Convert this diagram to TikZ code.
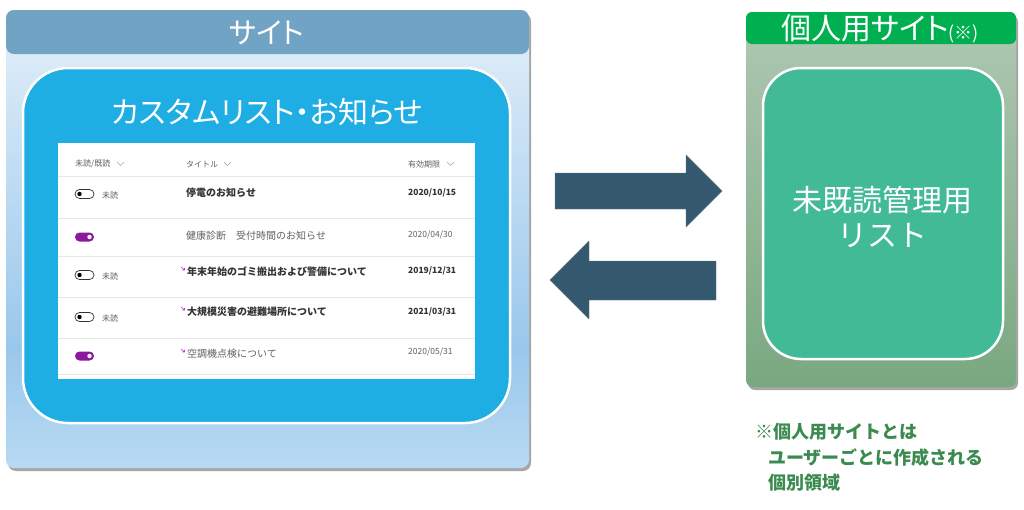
\documentclass[tikz,border=0pt]{standalone}
\usepackage{fontspec}
\setmainfont{Noto Sans CJK JP}
\newfontfamily\jpp{Noto Sans CJK JP}[RawFeature=+palt]
\usetikzlibrary{shadows}
\definecolor{hdrblue}{HTML}{71A3C4}
\definecolor{lbA}{HTML}{E4F0FA}
\definecolor{lbB}{HTML}{99C7EB}
\definecolor{lbC}{HTML}{B8DAF3}
\definecolor{cyanbox}{HTML}{1EAEE4}
\definecolor{greenhdr}{HTML}{00B050}
\definecolor{gbA}{HTML}{B0C8B3}
\definecolor{gbB}{HTML}{79A880}
\definecolor{tealbox}{HTML}{43BA96}
\definecolor{arrowc}{HTML}{34596F}
\definecolor{notegreen}{HTML}{3B8A4F}
\definecolor{togglep}{HTML}{8A1A9B}
\definecolor{markp}{HTML}{B040C8}
\definecolor{txtdark}{HTML}{333333}
\definecolor{txtgray}{HTML}{606060}
\definecolor{sepc}{HTML}{E6E6E6}
\pgfdeclareverticalshading{leftbg}{100bp}{color(0bp)=(lbC); color(25bp)=(lbC); color(38bp)=(lbB); color(75bp)=(lbA); color(100bp)=(lbA)}
\tikzset{
  bigw/.style={inner sep=0pt, text=white, font=\jpp\fontsize{29}{29}\selectfont},
  colh/.style={inner sep=0pt, anchor=west, text=txtgray, font=\fontsize{8}{9}\selectfont},
  tbold/.style={inner sep=0pt, anchor=west, text=txtdark, font=\bfseries\fontsize{10}{12}\selectfont},
  treg/.style={inner sep=0pt, anchor=west, text=txtgray, font=\fontsize{10}{12}\selectfont},
  dbold/.style={inner sep=0pt, anchor=west, text=txtdark, font=\bfseries\fontsize{8.5}{10}\selectfont},
  dreg/.style={inner sep=0pt, anchor=west, text=txtgray, font=\fontsize{8.5}{10}\selectfont},
  unread/.style={inner sep=0pt, anchor=west, text=txtgray, font=\fontsize{8}{9}\selectfont},
  notetxt/.style={inner sep=0pt, anchor=west, text=notegreen, font=\bfseries\fontsize{18}{20}\selectfont},
  sepline/.style={draw=sepc, line width=0.8pt},
  chev/.style={draw=gray!70, line width=0.5pt},
  pshadow/.style={drop shadow={shadow xshift=2pt, shadow yshift=-3pt, fill=black, opacity=0.35}},
  blockarrow/.style={fill=arrowc, draw=arrowc!80!white, line width=0.4pt}
}
\newcommand{\toggleoff}[1]{%
  \draw[txtdark, line width=0.7pt, rounded corners=4.5pt] (75,#1-4.5) rectangle (94,#1+4.5);
  \fill[black] (79.5,#1) circle (2.2);}
\newcommand{\toggleon}[1]{%
  \fill[togglep, rounded corners=4.5pt] (75,#1-4.5) rectangle (94,#1+4.5);
  \fill[white] (89.5,#1) circle (2.2);}
\newcommand{\newmark}[1]{%
  \draw[markp, line width=0.6pt] (181,#1-3) -- (184.5,#1) (182.3,#1) -- (184.5,#1) -- (184.5,#1-2.2);}
\begin{document}
\begin{tikzpicture}[x=1pt,y=-1pt]
\useasboundingbox (0,0) rectangle (1024,509);
\fill[white] (0,0) rectangle (1024,509);

% ---------- left panel ----------
\shade[shading=leftbg, rounded corners=8pt, pshadow] (6,10) rectangle (529,468);
\fill[hdrblue, rounded corners=8pt] (6,10) rectangle (529,54);
\node[bigw] (hdrL) at (267,33) {サイト};
\filldraw[fill=cyanbox, draw=white, line width=2.5pt, rounded corners=45pt] (23,68) rectangle (510,423);
\node[bigw, font=\jpp\fontsize{30}{30}\selectfont] (titleL) at (267,112) {カスタムリスト・お知らせ};

% table
\fill[white] (58,143) rectangle (475,379);
\foreach \yy in {176,218,256,297,338,374} \draw[sepline] (58,\yy) -- (475,\yy);
\node[colh] (ch1) at (75,164) {未読/既読};
\draw[chev] (117,162) -- (120.5,165.5) -- (124,162);
\node[colh] (ch2) at (186,164) {タイトル};
\draw[chev] (224,162) -- (227.5,165.5) -- (231,162);
\node[colh] (ch3) at (408,164) {有効期限};
\draw[chev] (447,162) -- (450.5,165.5) -- (454,162);

% row 1
\toggleoff{194}
\node[unread] (u1) at (102,195) {未読};
\node[tbold] (t1) at (186,193) {停電のお知らせ};
\node[dbold] (d1) at (408,193) {2020/10/15};
% row 2
\toggleon{237}
\node[treg] (t2) at (186,236) {健康診断　受付時間のお知らせ};
\node[dreg] (d2) at (408,235) {2020/04/30};
% row 3
\toggleoff{275}
\node[unread] (u3) at (102,276) {未読};
\newmark{270}
\node[tbold] (t3) at (187,272) {年末年始のゴミ搬出および警備について};
\node[dbold] (d3) at (408,271) {2019/12/31};
% row 4
\toggleoff{317}
\node[unread] (u4) at (102,318) {未読};
\newmark{310}
\node[tbold] (t4) at (187,312) {大規模災害の避難場所について};
\node[dbold] (d4) at (408,312) {2021/03/31};
% row 5
\toggleon{356}
\newmark{352}
\node[treg] (t5) at (187,354) {空調機点検について};
\node[dreg] (d5) at (408,352) {2020/05/31};

% ---------- arrows ----------
\path[blockarrow] (555,173) -- (686,173) -- (686,155) -- (722,191) -- (686,227) -- (686,209) -- (555,209) -- cycle;
\path[blockarrow] (716,261) -- (589,261) -- (589,241) -- (550,280) -- (589,319) -- (589,300) -- (716,300) -- cycle;

% ---------- right panel ----------
\shade[top color=gbA, bottom color=gbB, rounded corners=7pt, pshadow] (746,12) rectangle (1016,387);
\fill[greenhdr, rounded corners=6pt] (746,12) rectangle (1016,44);
\node[bigw] (hdrR) at (880,29) {\fontsize{30}{30}\selectfont 個人用サイト{\fontsize{18}{18}\selectfont (※)}};
\filldraw[fill=tealbox, draw=white, line width=2.5pt, rounded corners=38pt] (763,68) rectangle (1003,359);
\node[bigw, align=center, font=\fontsize{30}{35}\selectfont] (listR) at (882,217) {未既読管理用\\リスト};

% note
\node[notetxt] (n1) at (755,432) {※個人用サイトとは};
\node[notetxt] (n2) at (768,458) {ユーザーごとに作成される};
\node[notetxt] (n3) at (768,483) {個別領域};
\end{tikzpicture}
\end{document}
